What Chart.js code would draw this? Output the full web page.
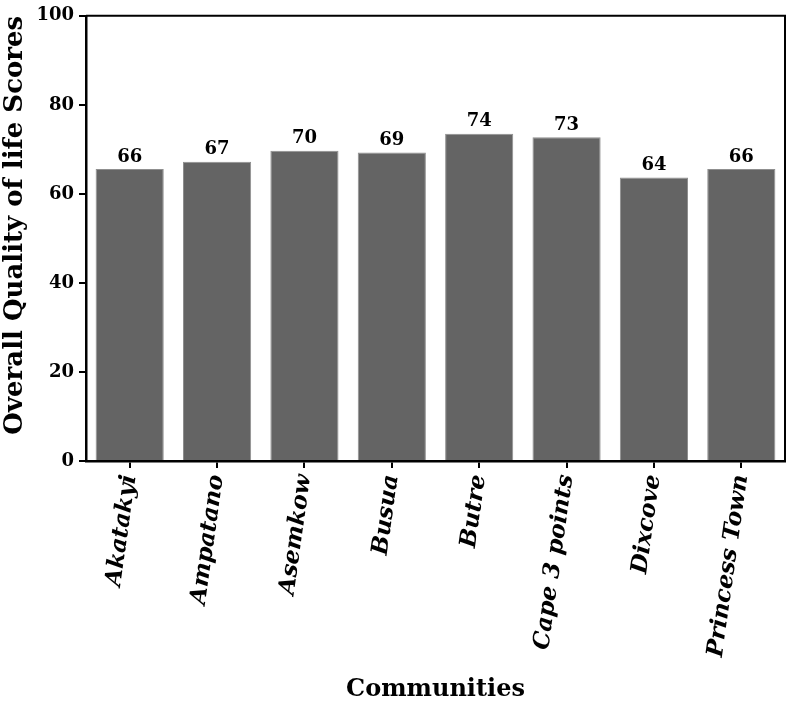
<!DOCTYPE html>
<html>
<head>
<meta charset="utf-8">
<script src="https://cdn.jsdelivr.net/npm/chart.js@4.4.0/dist/chart.umd.min.js"></script>
<style>
  html, body { margin: 0; padding: 0; background: #fff; }
  #wrap { width: 788px; height: 704px; }
</style>
</head>
<body>
<div id="wrap"><canvas id="c" width="788" height="704"></canvas></div>
<script>
const categories = ["Akatakyi", "Ampatano", "Asemkow", "Busua", "Butre", "Cape 3 points", "Dixcove", "Princess Town"];
const scores = [65.6, 67.2, 69.7, 69.3, 73.5, 72.7, 63.7, 65.6];
const scoreLabels = ["66", "67", "70", "69", "74", "73", "64", "66"];
const yTicks = [0, 20, 40, 60, 80, 100];

const SERIF = "'DejaVu Serif', 'Liberation Serif', serif";

const frameAndLabels = {
  id: 'frameAndLabels',
  afterDatasetsDraw(chart) {
    const ctx = chart.ctx;
    const a = chart.chartArea;
    ctx.save();
    ctx.strokeStyle = '#000';
    ctx.lineWidth = 2;
    ctx.beginPath();
    ctx.moveTo(a.left, a.top);
    ctx.lineTo(a.right, a.top);
    ctx.lineTo(a.right, a.bottom);
    ctx.stroke();
    const meta = chart.getDatasetMeta(0);
    ctx.fillStyle = '#000';
    ctx.font = "bold 18px " + SERIF;
    ctx.textAlign = 'center';
    ctx.textBaseline = 'bottom';
    meta.data.forEach((bar, i) => {
      ctx.fillText(scoreLabels[i], bar.x, bar.y - 3);
    });
    ctx.restore();
  }
};

new Chart(document.getElementById('c'), {
  type: 'bar',
  data: {
    labels: categories,
    datasets: [{
      data: scores,
      backgroundColor: '#646464',
      borderColor: '#8f8f8f',
      borderWidth: 1,
      barPercentage: 0.78,
      categoryPercentage: 1.0
    }]
  },
  options: {
    responsive: false,
    animation: false,
    layout: { padding: { left: 0, right: 3, top: 6, bottom: 0 } },
    plugins: {
      legend: { display: false },
      tooltip: { enabled: false }
    },
    scales: {
      x: {
        grid: { display: true, offset: false, drawOnChartArea: false, drawTicks: true, tickLength: 7, color: '#000', lineWidth: 2 },
        border: { display: true, color: '#000', width: 2.5 },
        ticks: {
          autoSkip: false,
          minRotation: 82,
          maxRotation: 82,
          padding: 5,
          color: '#000',
          font: { family: SERIF, size: 23, weight: 'bold', style: 'italic' }
        },
        title: {
          display: true,
          text: 'Communities',
          color: '#000',
          font: { family: SERIF, size: 24, weight: 'bold' },
          padding: { top: 0, bottom: 0 }
        },
        afterFit(scale) { scale.height = 704 - 461; }
      },
      y: {
        min: 0,
        max: 100,
        afterBuildTicks(scale) { scale.ticks = yTicks.map(v => ({ value: v })); },
        grid: { display: true, drawOnChartArea: false, drawTicks: true, tickLength: 7, color: '#000', lineWidth: 2 },
        border: { display: true, color: '#000', width: 2.5 },
        ticks: {
          padding: 5,
          color: '#000',
          font: { family: SERIF, size: 18, weight: 'bold' }
        },
        title: {
          display: true,
          text: 'Overall Quality of life Scores',
          align: 'end',
          color: '#000',
          font: { family: SERIF, size: 26, weight: 'bold' },
          padding: { top: 0, bottom: 0 }
        },
        afterFit(scale) { scale.width = 86; }
      }
    }
  },
  plugins: [frameAndLabels]
});
</script>
</body>
</html>
